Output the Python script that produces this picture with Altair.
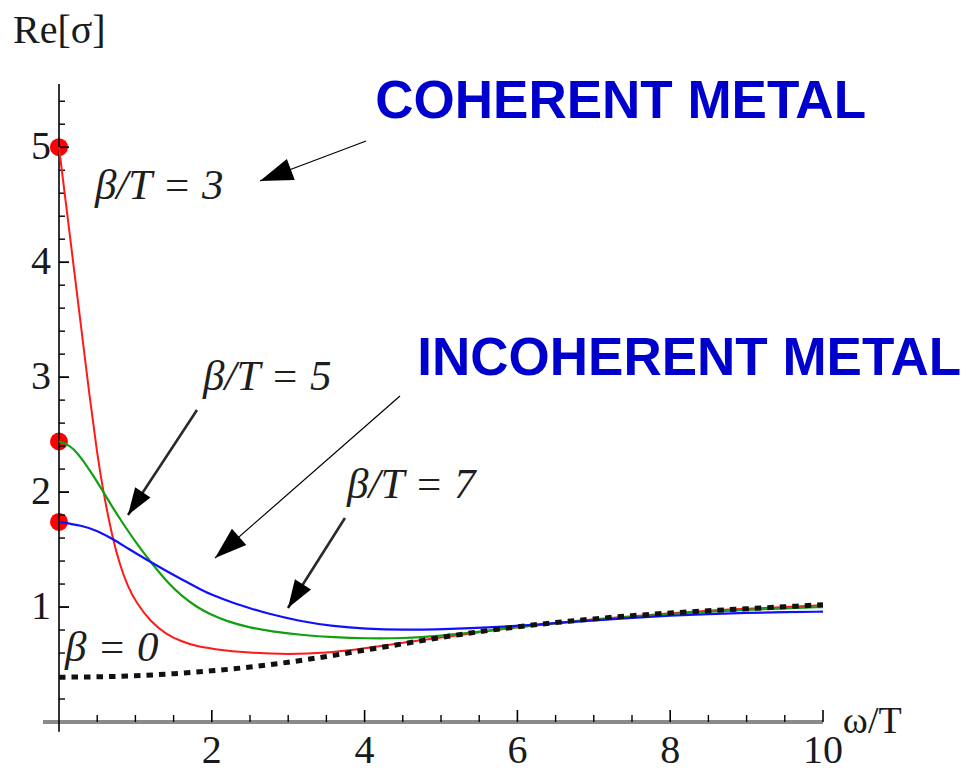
import math
import altair as alt
import pandas as pd

# Re[sigma] as a function of omega/T
# beta/T = 3 (red)
w_b3 = [0, 0.05, 0.1, 0.2, 0.3, 0.4, 0.5, 0.58, 0.7, 0.8, 0.9, 1.0, 1.2, 1.4, 1.6,
        1.8, 2.0, 2.5, 3.0, 3.5, 4.0, 4.5, 5.0, 5.5, 6.0, 6.5, 7.0, 7.5, 8.0, 8.5,
        9.0, 9.5, 10.0]
s_b3 = [5.0, 4.73, 4.46, 3.92, 3.38, 2.83, 2.33, 2.0, 1.60, 1.36, 1.18, 1.05, 0.87,
        0.765, 0.70, 0.66, 0.635, 0.60, 0.588, 0.60, 0.64, 0.69, 0.735, 0.78, 0.825,
        0.86, 0.895, 0.92, 0.945, 0.97, 0.985, 1.0, 1.015]
# beta/T = 5 (green)
w_b5 = [0, 0.1, 0.2, 0.31, 0.4, 0.5, 0.58, 0.7, 0.8, 0.9, 1.0, 1.15, 1.3, 1.45, 1.6,
        1.8, 2.0, 2.2, 2.5, 2.8, 3.2, 3.6, 4.0, 4.5, 5.0, 5.5, 6.0, 6.5, 7.0, 7.5,
        8.0, 8.5, 9.0, 9.5, 10.0]
s_b5 = [2.44, 2.42, 2.37, 2.28, 2.19, 2.09, 2.0, 1.87, 1.765, 1.665, 1.57, 1.435, 1.31,
        1.195, 1.10, 1.0, 0.93, 0.875, 0.82, 0.785, 0.755, 0.737, 0.727, 0.727, 0.75,
        0.785, 0.825, 0.86, 0.89, 0.915, 0.94, 0.96, 0.975, 0.99, 1.0]
# beta/T = 7 (blue)
w_b7 = [0, 0.3, 0.5, 0.71, 0.9, 1.15, 1.4, 1.62, 1.85, 2.0, 2.28, 2.5, 2.72, 3.15,
        3.59, 4.03, 4.46, 5.12, 5.77, 6.3, 7.0, 7.5, 8.0, 8.5, 9.0, 9.5, 10.0]
s_b7 = [1.74, 1.71, 1.665, 1.59, 1.51, 1.41, 1.315, 1.235, 1.155, 1.105, 1.035, 0.99,
        0.945, 0.877, 0.833, 0.81, 0.80, 0.81, 0.825, 0.85, 0.885, 0.905, 0.925,
        0.94, 0.95, 0.955, 0.96]
# beta = 0 (dotted)
w_b0 = [0, 0.5, 1, 1.5, 2, 2.5, 3, 3.5, 4, 4.5, 5, 5.5, 6, 6.5, 7, 7.5, 8, 8.5, 9,
        9.5, 10]
s_b0 = [0.39, 0.393, 0.403, 0.42, 0.445, 0.478, 0.52, 0.57, 0.625, 0.68, 0.735,
        0.785, 0.828, 0.865, 0.897, 0.925, 0.948, 0.968, 0.985, 1.003, 1.02]

# axis ticks
x_major = [2, 4, 6, 8, 10]
x_minor = [0.5, 1, 1.5, 2.5, 3, 3.5, 4.5, 5, 5.5, 6.5, 7, 7.5, 8.5, 9, 9.5]
y_major = [1, 2, 3, 4, 5]
y_minor = [0.2, 0.4, 0.6, 0.8, 1.2, 1.4, 1.6, 1.8, 2.2, 2.4, 2.6, 2.8, 3.2, 3.4,
           3.6, 3.8, 4.2, 4.4, 4.6, 4.8, 5.2, 5.4]

# curve annotations
lab_text = ["β/T = 3", "β/T = 5", "β/T = 7", "β = 0"]
lab_x = [0.47, 1.885, 3.77, 0.08]
lab_y = [4.663, 3.0, 2.062, 0.644]

# regime headlines
head_text = ["COHERENT METAL", "INCOHERENT METAL"]
head_x = [4.14, 4.69]
head_y = [5.39, 3.16]

# arrows: tail (x0, y0) -> tip (x1, y1)
arr_x0 = [4.02, 1.806, 4.463, 3.743]
arr_y0 = [5.054, 2.714, 2.836, 1.775]
arr_x1 = [2.63, 0.903, 2.042, 2.997]
arr_y1 = [4.706, 1.801, 1.427, 0.992]
arr_width = [1.2, 2.6, 1.2, 2.6]
arr_head = [33, 27, 32, 28]

# plot geometry
W, H = 764, 638
X_DOM = [0, 10]
Y_DOM = [0, 5.55]
PX_X = W / (X_DOM[1] - X_DOM[0])
PX_Y = H / (Y_DOM[1] - Y_DOM[0])

xs = alt.Scale(domain=X_DOM, nice=False, zero=False)
ys = alt.Scale(domain=Y_DOM, nice=False, zero=False)
SERIF = "Liberation Serif"
SANS = "Liberation Sans"


def X(f="x"):
    return alt.X(f"{f}:Q", scale=xs, axis=None)


def Y(f="y"):
    return alt.Y(f"{f}:Q", scale=ys, axis=None)


def curve(w, s, color, width=2.0, dash=None, interp="basis"):
    mark = dict(color=color, strokeWidth=width, interpolate=interp, clip=False)
    if dash:
        mark.update(strokeDash=dash, strokeCap="butt")
    return alt.Chart(pd.DataFrame({"x": w, "y": s})).mark_line(**mark).encode(x=X(), y=Y())


# frame lines
x_axis = alt.Chart(pd.DataFrame({"x": [-0.21], "x2": [10.0], "y": [0.0]})).mark_rule(
    color="#8a8a8a", strokeWidth=4
).encode(x=X(), x2=alt.X2("x2:Q"), y=Y())
y_axis = alt.Chart(pd.DataFrame({"x": [0.0], "y": [-0.085], "y2": [5.55]})).mark_rule(
    color="black", strokeWidth=1.6
).encode(x=X(), y=Y(), y2=alt.Y2("y2:Q"))

x_tick_major = alt.Chart(pd.DataFrame({"x": x_major})).mark_rule(
    color="black", strokeWidth=1.6
).encode(x=X(), y=alt.value(H), y2=alt.value(H - 12))
x_tick_minor = alt.Chart(pd.DataFrame({"x": x_minor})).mark_rule(
    color="black", strokeWidth=1.4
).encode(x=X(), y=alt.value(H), y2=alt.value(H - 7))
y_tick_major = alt.Chart(pd.DataFrame({"y": y_major})).mark_rule(
    color="black", strokeWidth=1.8
).encode(y=Y(), x=alt.value(0), x2=alt.value(10))
y_tick_minor = alt.Chart(pd.DataFrame({"y": y_minor})).mark_rule(
    color="black", strokeWidth=1.4
).encode(y=Y(), x=alt.value(0), x2=alt.value(6))

x_labels = alt.Chart(pd.DataFrame({"x": x_major, "y": [0] * len(x_major),
                                   "t": [str(v) for v in x_major]})).mark_text(
    font=SERIF, fontSize=40, color="#1a1a1a", align="center",
    baseline="alphabetic", dy=41
).encode(x=X(), y=Y(), text="t:N")
y_labels = alt.Chart(pd.DataFrame({"x": [0] * len(y_major), "y": y_major,
                                   "t": [str(v) for v in y_major]})).mark_text(
    font=SERIF, fontSize=40, color="#1a1a1a", align="center",
    baseline="middle", dx=-18
).encode(x=X(), y=Y(), text="t:N")

y_title = alt.Chart(pd.DataFrame({"x": [-0.602], "y": [5.907], "t": ["Re[σ]"]})).mark_text(
    font=SERIF, fontSize=40, color="#1a1a1a", align="left", baseline="alphabetic"
).encode(x=X(), y=Y(), text="t:N")
x_title = alt.Chart(pd.DataFrame({"x": [10.26], "y": [-0.096], "t": ["ω/T"]})).mark_text(
    font=SERIF, fontSize=38, color="#1a1a1a", align="left", baseline="alphabetic"
).encode(x=X(), y=Y(), text="t:N")

# red markers at the omega = 0 values of the three finite-beta curves
dots = alt.Chart(pd.DataFrame({"x": [w_b3[0], w_b5[0], w_b7[0]],
                               "y": [s_b3[0], s_b5[0], s_b7[0]]})).mark_circle(
    size=324, color="#ff0000", opacity=1
).encode(x=X(), y=Y())

lines = [
    curve(w_b3, s_b3, "#ff1a1a", 2.0),
    curve(w_b5, s_b5, "#12a012", 2.2),
    curve(w_b7, s_b7, "#1010ff", 2.2),
    curve(w_b0, s_b0, "#111111", 5.0, dash=[6.5, 6], interp="monotone"),
]

# arrows: shaft plus a rotated triangular head whose tip sits on (x1, y1)
arr = pd.DataFrame({"x": arr_x0, "y": arr_y0, "x2": arr_x1, "y2": arr_y1,
                    "w": arr_width, "head": arr_head})
arr["angle"] = [
    math.degrees(math.atan2((b - a) * PX_X, (d - c) * PX_Y)) % 360
    for a, b, c, d in zip(arr_x0, arr_x1, arr_y0, arr_y1)
]
arr["size"] = [(2 * h) ** 2 for h in arr_head]
arr["color"] = ["#000000", "#2a2a2a", "#000000", "#2a2a2a"]

shafts = alt.Chart(arr).mark_rule().encode(
    x=X(), y=Y(), x2=alt.X2("x2:Q"), y2=alt.Y2("y2:Q"),
    strokeWidth=alt.StrokeWidth("w:Q", scale=None),
    color=alt.Color("color:N", scale=None),
)
heads = alt.Chart(arr).mark_point(
    shape="M0,0L0.34,1L-0.34,1Z", filled=True, opacity=1, color="black", strokeWidth=0
).encode(
    x=X("x2"), y=Y("y2"),
    angle=alt.Angle("angle:Q", scale=None),
    size=alt.Size("size:Q", scale=None),
)

labels = alt.Chart(pd.DataFrame({"x": lab_x, "y": lab_y, "t": lab_text})).mark_text(
    font=SERIF, fontStyle="italic", fontSize=43, color="#1e1e1e",
    align="left", baseline="middle"
).encode(x=X(), y=Y(), text="t:N")

headlines = alt.Chart(pd.DataFrame({"x": head_x, "y": head_y, "t": head_text})).mark_text(
    font=SANS, fontWeight="bold", fontSize=53, color="#0000cc",
    align="left", baseline="middle"
).encode(x=X(), y=Y(), text="t:N")

chart = alt.layer(
    dots, x_axis, y_axis, x_tick_major, x_tick_minor, y_tick_major, y_tick_minor,
    *lines, shafts, heads, x_labels, y_labels, y_title, x_title, labels, headlines
).properties(
    width=W, height=H,
    padding={"left": 59, "top": 84, "right": 967 - 59 - W, "bottom": 771 - 84 - H},
    autosize=alt.AutoSizeParams(type="none"),
    background="white",
).configure_view(stroke=None)

chart.save("out.html", embed_options={"renderer": "svg", "actions": False})
